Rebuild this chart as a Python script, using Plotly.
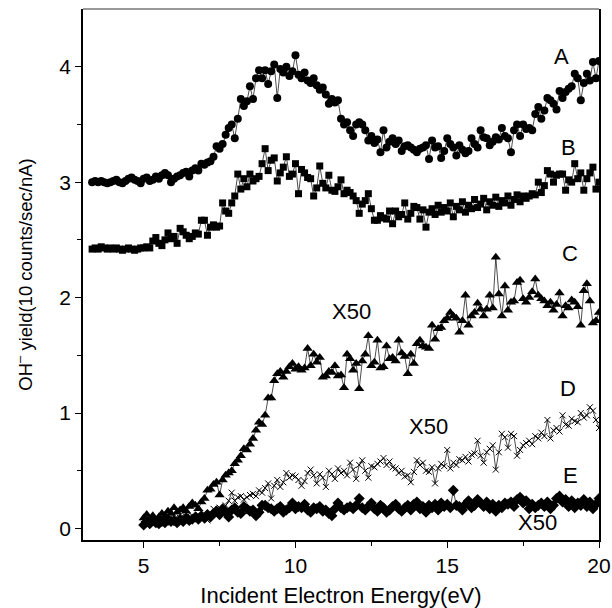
import numpy as np
import plotly.graph_objects as go

# Energy grids (eV)
energy_ab = np.round(np.linspace(3.3, 20.0, 168), 2)
energy_cde = np.round(np.linspace(5.0, 20.0, 151), 2)

series_a = [
    3.00, 3.01, 3.00, 3.01, 3.00, 2.99, 3.00,
    3.01, 3.02, 3.00, 2.99, 3.01, 3.03, 3.04, 3.02, 3.01, 2.99,
    3.03, 3.04, 3.01, 3.02, 3.05, 3.03, 3.06, 3.08, 3.06, 3.00,
    3.03, 3.05, 3.06, 3.08, 3.09, 3.05, 3.10, 3.12, 3.10, 3.16,
    3.15, 3.17, 3.18, 3.22, 3.31, 3.29, 3.33, 3.41, 3.47, 3.50,
    3.38, 3.55, 3.72, 3.66, 3.70, 3.83, 3.72, 3.90, 3.97, 3.90,
    3.97, 3.85, 3.96, 4.02, 3.73, 3.98, 3.95, 4.00, 3.92, 3.96,
    4.10, 3.93, 3.90, 3.95, 3.88, 3.86, 3.90, 3.84, 3.80, 3.82,
    3.76, 3.68, 3.72, 3.69, 3.71, 3.55, 3.50, 3.52, 3.45, 3.40,
    3.50, 3.52, 3.50, 3.45, 3.36, 3.40, 3.34, 3.37, 3.26, 3.45,
    3.30, 3.35, 3.38, 3.33, 3.36, 3.27, 3.31, 3.32, 3.30, 3.28,
    3.26, 3.29, 3.30, 3.32, 3.20, 3.36, 3.30, 3.31, 3.21, 3.27,
    3.38, 3.33, 3.30, 3.23, 3.32, 3.28, 3.25, 3.27, 3.38, 3.33,
    3.30, 3.45, 3.39, 3.38, 3.32, 3.35, 3.39, 3.37, 3.47, 3.40,
    3.38, 3.26, 3.45, 3.50, 3.40, 3.50, 3.46, 3.47, 3.45, 3.59,
    3.65, 3.55, 3.62, 3.73, 3.71, 3.68, 3.63, 3.79, 3.73, 3.78,
    3.81, 3.83, 3.94, 3.90, 3.71, 3.86, 3.94, 3.88, 4.04, 3.90,
    4.05,
]

series_b = [
    2.42, 2.43, 2.42, 2.44, 2.43, 2.42, 2.43,
    2.42, 2.43, 2.42, 2.41, 2.42, 2.43, 2.42, 2.41, 2.42, 2.43,
    2.43, 2.44, 2.43, 2.49, 2.52, 2.47, 2.45, 2.50, 2.56, 2.51,
    2.53, 2.47, 2.60, 2.57, 2.54, 2.51, 2.53, 2.56, 2.55, 2.67,
    2.67, 2.54, 2.61, 2.63, 2.61, 2.62, 2.82, 2.75, 2.73, 2.82,
    2.88, 3.07, 2.94, 3.03, 2.96, 3.07, 3.01, 3.03, 3.05, 3.16,
    3.29, 3.10, 3.19, 3.21, 3.01, 3.08, 3.13, 3.22, 3.05, 3.07,
    3.16, 2.90, 3.11, 3.08, 3.04, 3.03, 2.88, 2.95, 3.14, 2.99,
    2.95, 3.06, 2.93, 2.92, 2.96, 3.02, 2.90, 2.93, 2.91, 2.88,
    2.84, 2.73, 2.81, 2.84, 2.90, 2.77, 2.67, 2.67, 2.71, 2.69,
    2.68, 2.75, 2.64, 2.75, 2.70, 2.72, 2.82, 2.68, 2.73, 2.79,
    2.78, 2.68, 2.76, 2.61, 2.74, 2.77, 2.72, 2.80, 2.74, 2.78,
    2.75, 2.82, 2.70, 2.79, 2.76, 2.83, 2.74, 2.80, 2.77, 2.85,
    2.78, 2.81, 2.86, 2.76, 2.83, 2.80, 2.87, 2.79, 2.84, 2.82,
    2.88, 2.80, 2.85, 2.89, 2.83, 2.88, 2.86, 2.88, 2.90, 2.89,
    3.00, 2.91, 2.97, 3.10, 3.07, 3.00, 3.06, 3.07, 3.07, 2.93,
    3.02, 3.00, 3.16, 3.03, 3.08, 2.93, 3.03, 3.08, 3.13, 2.94,
    3.00,
]

series_c = [
    0.09, 0.12, 0.08, 0.11, 0.07, 0.10, 0.13, 0.11, 0.15, 0.13,
    0.18, 0.14, 0.16, 0.18, 0.15, 0.19, 0.22, 0.20, 0.17, 0.23,
    0.26, 0.33, 0.34, 0.38, 0.40, 0.29, 0.42, 0.46, 0.48, 0.50,
    0.56, 0.59, 0.63, 0.69, 0.68, 0.73, 0.78, 0.85, 0.92, 0.90,
    0.98, 1.13, 1.13, 1.28, 1.34, 1.36, 1.31, 1.36, 1.40, 1.43,
    1.38, 1.40, 1.37, 1.39, 1.56, 1.41, 1.51, 1.44, 1.48, 1.31,
    1.32, 1.36, 1.35, 1.41, 1.32, 1.33, 1.22, 1.51, 1.47, 1.37,
    1.43, 1.21, 1.45, 1.51, 1.67, 1.41, 1.44, 1.63, 1.39, 1.40,
    1.58, 1.47, 1.48, 1.45, 1.63, 1.52, 1.49, 1.34, 1.51, 1.43,
    1.60, 1.63, 1.58, 1.57, 1.56, 1.76, 1.64, 1.73, 1.74, 1.80,
    1.82, 1.87, 1.84, 1.82, 1.70, 1.80, 2.02, 1.76, 1.84, 1.87,
    1.95, 1.90, 1.84, 1.90, 2.02, 1.91, 2.35, 2.03, 1.84, 2.10,
    1.89, 1.96, 1.97, 2.13, 2.15, 1.99, 1.96, 2.00, 2.05, 2.16,
    2.02, 1.99, 1.97, 1.93, 1.96, 1.89, 1.94, 2.04, 1.84, 1.93,
    1.91, 1.98, 1.96, 1.92, 1.76, 2.06, 2.12, 1.97, 1.78, 1.80,
    1.87,
]

series_d = [
    0.04, 0.06, 0.05, 0.07, 0.05, 0.06, 0.08, 0.06, 0.07, 0.05,
    0.08, 0.07, 0.09, 0.08, 0.10, 0.08, 0.11, 0.09, 0.12, 0.10,
    0.09, 0.07, 0.12, 0.17, 0.14, 0.18, 0.15, 0.20, 0.24, 0.31,
    0.24, 0.27, 0.28, 0.25, 0.27, 0.29, 0.30, 0.28, 0.33, 0.31,
    0.35, 0.39, 0.26, 0.37, 0.42, 0.36, 0.40, 0.48, 0.44, 0.46,
    0.45, 0.42, 0.37, 0.41, 0.48, 0.51, 0.46, 0.39, 0.47, 0.44,
    0.36, 0.50, 0.47, 0.43, 0.52, 0.48, 0.50, 0.46, 0.57, 0.51,
    0.43, 0.55, 0.59, 0.50, 0.44, 0.54, 0.53, 0.56, 0.58, 0.61,
    0.55, 0.58, 0.53, 0.52, 0.48, 0.50, 0.45, 0.46, 0.40, 0.49,
    0.59, 0.55, 0.57, 0.50, 0.49, 0.53, 0.39, 0.52, 0.56, 0.54,
    0.68, 0.52, 0.57, 0.55, 0.60, 0.59, 0.62, 0.58, 0.64, 0.65,
    0.76, 0.63, 0.57, 0.66, 0.69, 0.72, 0.51, 0.66, 0.82, 0.79,
    0.70, 0.82, 0.80, 0.63, 0.68, 0.72, 0.74, 0.76, 0.73, 0.80,
    0.78, 0.83, 0.80, 0.94, 0.78, 0.85, 0.87, 0.84, 0.98, 0.90,
    0.89, 0.95, 0.93, 0.92, 1.00, 0.96, 0.98, 1.05, 1.02, 0.94,
    0.87,
]

series_e = [
    0.03, 0.06, 0.04, 0.07, 0.05, 0.04, 0.06, 0.05, 0.08, 0.06,
    0.07, 0.05, 0.08, 0.06, 0.09, 0.07, 0.08, 0.10, 0.08, 0.11,
    0.09, 0.12, 0.10, 0.13, 0.15, 0.12, 0.17, 0.14, 0.10, 0.16,
    0.18, 0.14, 0.13, 0.19, 0.17, 0.15, 0.16, 0.11, 0.14, 0.20,
    0.20, 0.18, 0.17, 0.15, 0.17, 0.19, 0.14, 0.16, 0.18, 0.22,
    0.17, 0.19, 0.18, 0.21, 0.16, 0.14, 0.18, 0.17, 0.19, 0.15,
    0.16, 0.13, 0.11, 0.17, 0.22, 0.18, 0.16, 0.18, 0.19, 0.17,
    0.20, 0.26, 0.18, 0.16, 0.19, 0.22, 0.17, 0.15, 0.20, 0.18,
    0.14, 0.16, 0.19, 0.21, 0.17, 0.15, 0.18, 0.20, 0.16, 0.21,
    0.23, 0.17, 0.19, 0.14, 0.20, 0.18, 0.21, 0.16, 0.22, 0.19,
    0.21, 0.18, 0.33, 0.20, 0.19, 0.16, 0.21, 0.24, 0.18, 0.20,
    0.25, 0.22, 0.19, 0.23, 0.17, 0.21, 0.15, 0.20, 0.18, 0.22,
    0.21, 0.23, 0.19, 0.25, 0.27, 0.22, 0.24, 0.17, 0.21, 0.18,
    0.20, 0.22, 0.19, 0.23, 0.17, 0.20, 0.26, 0.28, 0.23, 0.25,
    0.19, 0.24, 0.18, 0.22, 0.20, 0.25, 0.19, 0.23, 0.17, 0.21,
    0.26,
]

curve_labels = ["A", "B", "C", "D", "E"]
scale_label = "X50"
x_title = "Incident Electron Energy(eV)"
y_title = "OH<sup>\u2012</sup> yield(10 counts/sec/nA)"

FONT = "Liberation Sans, Arial, sans-serif"

fig = go.Figure()

specs = [
    (energy_ab, series_a, "circle", 8, 0),
    (energy_ab, series_b, "square", 7, 0),
    (energy_cde, series_c, "triangle-up", 9, 0),
    (energy_cde, series_d, "x-thin", 6, 1),
    (energy_cde, series_e, "diamond", 8.5, 0),
]
for xs, ys, sym, sz, lw in specs:
    fig.add_trace(go.Scatter(
        x=xs, y=ys, mode="lines+markers",
        line=dict(color="black", width=0.7),
        marker=dict(symbol=sym, size=sz, color="black",
                    line=dict(color="black", width=lw)),
        showlegend=False,
    ))

label_pos = [(18.75, 4.09), (19.01, 3.30), (19.05, 2.38), (18.98, 1.21), (19.05, 0.46)]
for txt, (ax, ay) in zip(curve_labels, label_pos):
    fig.add_annotation(x=ax, y=ay, text=txt, showarrow=False,
                       font=dict(family=FONT, size=22, color="black"))

x50_pos = [(11.86, 1.88), (14.37, 0.88), (17.99, 0.05)]
for ax, ay in x50_pos:
    fig.add_annotation(x=ax, y=ay, text=scale_label, showarrow=False,
                       font=dict(family=FONT, size=22, color="black"))

# top frame line (gray)
fig.add_shape(type="line", xref="paper", yref="paper", x0=0, x1=1, y0=1, y1=1,
              line=dict(color="#777777", width=1.5))

fig.update_layout(
    width=612, height=608,
    margin=dict(l=83, r=13, t=9, b=68),
    paper_bgcolor="white", plot_bgcolor="white",
    font=dict(family=FONT, color="black"),
    xaxis=dict(
        range=[3, 20], showgrid=False, zeroline=False, automargin=False,
        showline=True, linecolor="black", linewidth=1.5,
        ticks="outside", ticklen=6, tickwidth=1.2, tickcolor="black",
        tickvals=[5, 10, 15, 20],
        tickfont=dict(family=FONT, size=21),
        minor=dict(tickvals=[7.5, 12.5, 17.5], ticks="outside", ticklen=4, tickcolor="black"),
        title=dict(text=x_title, font=dict(family=FONT, size=22), standoff=14),
    ),
    yaxis=dict(
        range=[-0.1, 4.5], showgrid=False, zeroline=False, automargin=False,
        showline=True, linecolor="black", linewidth=1.5, mirror=True,
        ticks="outside", ticklen=6, tickwidth=1.2, tickcolor="black",
        tickvals=[0, 1, 2, 3, 4],
        tickfont=dict(family=FONT, size=21),
        minor=dict(tickvals=[0.5, 1.5, 2.5, 3.5], ticks="outside", ticklen=4, tickcolor="black"),
        title=dict(text=y_title, font=dict(family=FONT, size=18.5), standoff=22),
    ),
)

fig.write_html("out.html")
